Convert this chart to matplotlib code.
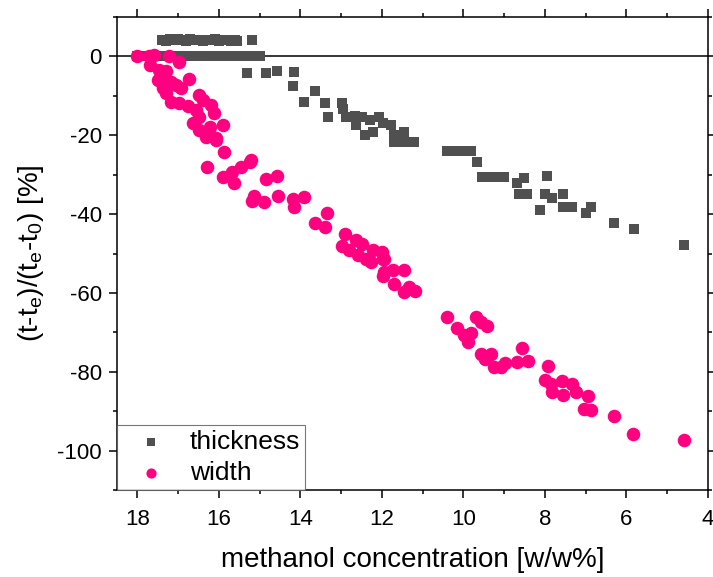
import matplotlib
matplotlib.use("Agg")
import matplotlib.pyplot as plt
from matplotlib.ticker import MultipleLocator

plt.rcParams['font.family'] = ['Liberation Sans', 'DejaVu Sans']
plt.rcParams['mathtext.fontset'] = 'custom'
plt.rcParams['mathtext.rm'] = 'Liberation Sans'
plt.rcParams['axes.unicode_minus'] = False

# thickness data
thick_x = [17.4, 17.3, 17.2, 17.1, 17.0, 16.9, 16.8, 16.7, 16.6, 16.5, 16.4, 16.3,
           16.2, 16.1, 16.0, 15.9, 15.8, 15.7, 15.6, 15.55, 15.2,
           18.0, 17.8, 17.6, 17.4, 17.2, 17.0, 16.8, 16.6, 16.4, 16.2, 16.0, 15.8,
           15.6, 15.4, 15.2, 15.0,
           15.3, 14.84, 14.57, 14.15, 14.18, 13.64, 13.91, 13.4, 13.33, 12.98, 12.95,
           12.89, 12.66, 12.63, 12.48, 12.41, 12.23, 12.29, 12.07, 11.98, 11.78, 11.7,
           11.46, 11.7, 11.46, 11.21,
           10.4, 10.25, 10.1, 9.95, 9.82, 9.67, 9.55, 9.4, 9.25, 9.1, 9.0,
           8.68, 8.51, 8.64, 8.44, 7.95, 8.12, 8.01, 7.82, 7.55, 7.55, 7.33, 7.0, 6.88,
           6.31, 5.82, 4.59]
thick_y = [4.2, 4.0, 4.3, 4.1, 4.4, 4.2, 4.0, 4.3, 4.1, 4.2, 3.9, 4.2,
           4.1, 4.3, 4.0, 4.2, 4.1, 3.9, 4.2, 4.0, 4.1,
           0.0, 0.0, 0.0, 0.0, 0.0, 0.0, 0.0, 0.0, 0.0, 0.0, 0.0, 0.0,
           0.0, 0.0, 0.0, 0.0,
           -4.1, -4.1, -3.6, -4.0, -7.6, -8.7, -11.5, -11.9, -15.3, -11.7, -13.4,
           -15.4, -15.1, -17.4, -15.3, -19.9, -19.1, -16.1, -15.3, -17.0, -17.4, -19.9,
           -19.1, -21.6, -21.6, -21.6,
           -23.9, -23.9, -23.9, -23.9, -23.9, -26.9, -30.5, -30.5, -30.5, -30.5, -30.5,
           -32.0, -30.8, -34.8, -34.8, -30.4, -39.0, -34.8, -36.0, -34.8, -38.2, -38.3,
           -39.8, -38.3, -42.3, -43.9, -47.9]

# width data
width_x = [18.02, 17.71, 17.58, 17.22, 16.97, 17.69, 17.46, 17.3, 17.5, 17.3, 17.18,
           16.73, 17.38, 17.05, 16.93, 17.3, 17.18, 16.97, 16.77, 16.48, 16.4, 16.2,
           16.11, 16.56, 16.48, 16.64, 16.23, 15.91, 16.32, 16.08, 15.87, 15.22,
           16.48, 16.32, 16.08, 16.3, 15.89, 15.64, 15.67, 15.46, 15.23, 14.85, 14.58,
           15.13, 15.2, 14.9, 14.54, 14.18, 14.15, 13.91, 13.64, 13.39, 13.34, 12.9,
           12.98, 12.64, 12.48, 12.8, 12.59, 12.39, 12.27, 12.21, 12.0, 11.98, 11.98,
           11.74, 11.7, 11.95, 11.95, 11.46, 11.46, 11.33, 11.19,
           10.4, 10.17, 9.99, 9.82, 9.88, 9.7, 9.58, 9.43, 9.58, 9.47, 9.33, 9.25,
           9.09, 8.99, 8.68, 8.57, 8.42, 7.92, 8.01, 7.86, 7.82, 7.58, 7.55, 7.33,
           7.25, 6.94, 7.04, 6.88, 6.3, 5.83, 4.6]
width_y = [0.0, 0.0, 0.4, 0.2, -1.3, -2.1, -3.4, -3.6, -5.9, -5.9, -6.4,
           -5.8, -8.0, -7.2, -8.0, -9.3, -11.5, -11.9, -12.7, -9.7, -11.0, -12.3,
           -14.4, -13.6, -15.3, -16.9, -17.8, -17.4, -19.5, -20.8, -24.3, -26.3,
           -18.6, -20.4, -21.2, -28.0, -30.5, -32.0, -29.3, -28.0, -26.9, -31.0, -30.4,
           -35.4, -36.7, -36.9, -35.4, -36.2, -38.2, -35.6, -42.2, -43.3, -39.8, -45.1,
           -48.2, -46.6, -47.5, -49.2, -50.5, -51.3, -52.2, -49.0, -49.6, -51.3, -55.6,
           -54.3, -57.7, -54.7, -51.3, -54.1, -59.8, -58.5, -59.4,
           -66.2, -68.9, -70.8, -70.1, -72.5, -66.2, -67.4, -68.3, -75.6, -76.7, -75.5,
           -78.9, -78.9, -77.9, -77.6, -73.9, -77.2, -78.6, -82.1, -83.1, -85.2, -82.3,
           -85.8, -83.0, -85.2, -86.1, -89.5, -89.7, -91.2, -95.8, -97.2]

fig = plt.figure(figsize=(7.13, 5.77), dpi=100)
ax = fig.add_axes([117/713, 1 - 490/577, 591/713, 473/577])

ax.axhline(0, color='black', lw=1.1, zorder=1)
ax.scatter(thick_x, thick_y, marker='s', s=62, color='#505050', linewidths=0,
           label='thickness', zorder=3)
ax.scatter(width_x, width_y, marker='o', s=95, color='#ff0080', linewidths=0,
           label='width', zorder=3)

ax.set_xlim(18.5, 4)
ax.set_ylim(-110, 10)
ax.xaxis.set_major_locator(MultipleLocator(2))
ax.xaxis.set_minor_locator(MultipleLocator(1))
ax.yaxis.set_major_locator(MultipleLocator(20))
ax.yaxis.set_minor_locator(MultipleLocator(10))
ax.tick_params(which='both', direction='out', top=True, right=True, width=1.1,
               labelsize=16, colors='black')
ax.tick_params(which='major', length=6, pad=5)
ax.tick_params(axis='x', which='major', pad=8)
ax.tick_params(which='minor', length=3)
for sp in ax.spines.values():
    sp.set_linewidth(1.1)

ax.set_xlabel('methanol concentration [w/w%]', fontsize=20, labelpad=12)
ax.set_ylabel(r'(t-t$_\mathregular{e}$)/(t$_\mathregular{e}$-t$_\mathregular{0}$) [%]',
              fontsize=20, labelpad=8)

leg = ax.legend(loc='lower left', fontsize=19, borderaxespad=0, fancybox=False,
                borderpad=0.2, handlelength=2.2, handletextpad=0.35,
                labelspacing=0.25, markerscale=0.75)
leg.get_frame().set_edgecolor('#555555')
leg.get_frame().set_linewidth(0.8)

plt.savefig('out.png', dpi=100)
